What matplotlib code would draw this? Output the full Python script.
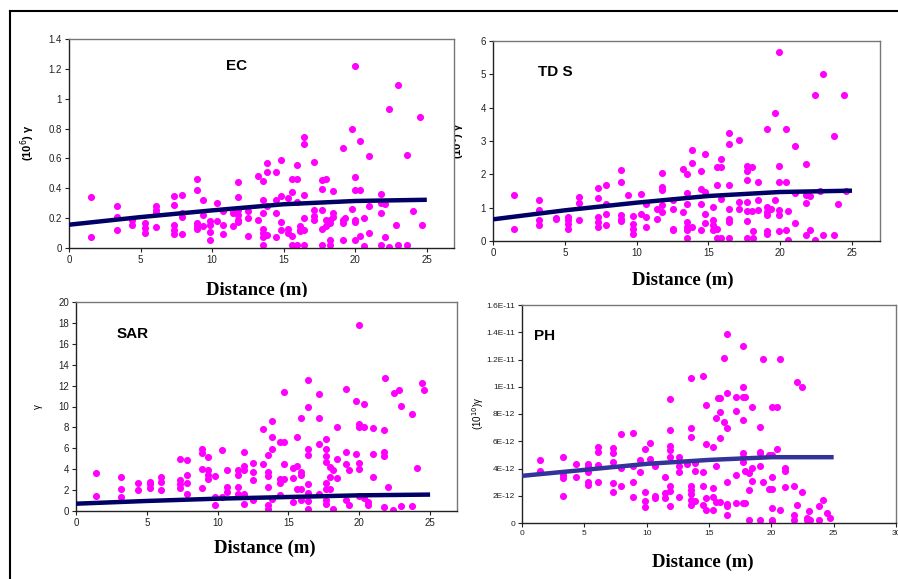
import numpy as np
import matplotlib
matplotlib.use("Agg")
import matplotlib.pyplot as plt
from matplotlib.patches import Rectangle
from matplotlib.lines import Line2D

# ---------------- data ----------------
ec_x = [1.51,1.51,3.33,3.33,3.33,4.43,4.43,5.31,5.31,5.31,6.08,6.08,6.08,6.08,7.34,7.34,7.34,7.34,7.34,
        7.87,7.87,7.87,7.87,8.97,8.97,8.97,8.97,8.97,9.39,9.39,9.39,9.86,9.86,9.86,9.86,10.32,10.32,
        10.74,10.74,10.74,11.49,11.49,11.49,11.84,11.84,11.84,11.84,11.84,11.84,12.53,12.53,12.53,
        13.23,13.23,13.58,13.58,13.58,13.58,13.58,13.58,13.58,13.82,13.82,13.82,13.82,14.47,14.47,
        14.47,14.47,14.82,14.82,14.82,14.82,15.33,15.33,15.33,15.59,15.59,15.59,15.59,15.91,15.91,
        15.91,15.91,16.15,16.15,16.15,16.43,16.43,16.43,16.43,16.43,16.43,17.15,17.15,17.15,17.15,
        17.66,17.66,17.66,17.66,17.66,17.96,17.96,17.96,18.24,18.24,18.24,18.24,18.43,18.43,18.43,
        19.13,19.13,19.13,19.13,19.3,19.76,19.76,19.99,19.99,19.99,19.99,19.99,19.99,20.34,20.34,
        20.34,20.62,20.62,20.99,20.99,20.99,21.78,21.78,21.78,21.78,22.09,22.09,22.39,22.39,22.86,
        22.97,22.97,23.65,23.65,24.07,24.49,24.63]
ec_y = [0.34,0.074,0.283,0.207,0.123,0.19,0.156,0.17,0.134,0.10,0.283,0.256,0.234,0.138,0.35,0.29,0.156,0.123,0.096,
        0.357,0.234,0.21,0.096,0.46,0.39,0.167,0.145,0.127,0.32,0.223,0.145,0.183,0.156,0.107,0.056,0.30,0.183,
        0.25,0.152,0.096,0.145,0.234,0.256,0.44,0.34,0.256,0.223,0.19,0.174,0.25,0.20,0.082,
        0.484,0.19,0.446,0.323,0.234,0.127,0.10,0.071,0.022,0.568,0.508,0.279,0.089,0.506,0.323,
        0.234,0.071,0.59,0.345,0.172,0.123,0.334,0.127,0.10,0.372,0.46,0.078,0.022,0.553,0.46,
        0.305,0.022,0.145,0.123,0.111,0.742,0.696,0.357,0.20,0.123,0.018,0.575,0.252,0.212,0.19,
        0.457,0.395,0.252,0.127,0.018,0.46,0.19,0.145,0.19,0.17,0.056,0.022,0.38,0.234,0.21,
        0.67,0.19,0.167,0.056,0.2,0.796,0.263,1.22,0.475,0.386,0.19,0.172,0.056,0.718,0.386,
        0.078,0.2,0.011,0.618,0.283,0.10,0.363,0.30,0.234,0.018,0.296,0.074,0.932,0.007,0.152,
        1.09,0.022,0.624,0.022,0.25,0.88,0.152]

tds_x = [1.44,1.44,3.19,3.19,3.19,3.19,4.37,4.37,5.19,5.19,5.19,5.19,6.0,6.0,6.0,7.33,7.33,7.33,7.33,7.33,
         7.86,7.86,7.86,7.86,8.88,8.88,8.88,8.88,8.88,9.42,9.77,9.77,9.77,9.77,10.28,10.28,10.65,10.65,10.65,
         11.4,11.4,11.79,11.79,11.79,11.79,11.79,12.51,12.51,12.51,12.51,13.2,13.2,13.53,13.53,13.53,
         13.53,13.53,13.53,13.53,13.84,13.84,13.84,14.47,14.47,14.47,14.47,14.77,14.77,14.77,14.77,
         15.3,15.3,15.3,15.3,15.58,15.58,15.58,15.58,15.86,15.86,15.86,15.86,16.4,16.4,16.4,16.4,16.4,
         16.4,16.4,17.16,17.16,17.16,17.67,17.67,17.67,17.67,17.67,17.67,17.67,18.02,18.02,18.14,18.14,
         18.42,18.42,18.42,19.07,19.07,19.07,19.07,19.07,19.07,19.35,19.67,19.67,19.93,19.93,19.93,19.93,
         19.93,19.93,20.4,20.4,20.4,20.56,20.56,21.05,21.05,21.05,21.77,21.77,21.77,21.77,22.05,22.05,
         22.42,22.42,22.79,22.98,22.98,23.72,23.72,24.02,24.42,24.58]
tds_y = [1.39,0.35,1.24,0.92,0.62,0.47,0.70,0.65,0.72,0.62,0.52,0.37,1.32,1.14,0.62,1.60,1.30,0.72,0.57,0.42,
         1.67,1.10,0.82,0.47,2.12,1.77,0.77,0.67,0.60,1.37,0.74,0.52,0.37,0.22,1.42,0.82,1.12,0.72,0.42,
         0.67,0.97,2.05,1.62,1.52,1.07,0.87,1.22,0.97,0.37,0.32,2.17,0.87,2.02,1.45,1.12,
         0.57,0.42,0.32,0.10,2.72,2.34,0.42,2.10,1.55,1.12,0.32,2.62,1.47,0.82,0.54,
         1.02,0.62,0.47,0.32,1.69,2.22,0.37,0.10,2.47,2.22,1.25,0.10,3.25,2.90,1.67,0.97,0.67,
         0.57,0.10,3.03,1.17,0.97,2.24,2.10,1.82,1.17,0.90,0.60,0.10,2.22,0.90,0.30,0.10,
         1.77,1.24,0.92,3.35,1.02,0.87,0.77,0.30,0.22,0.97,3.83,1.22,5.68,2.25,1.77,0.92,
         0.77,0.30,3.35,1.77,0.34,0.90,0.04,2.84,1.44,0.54,2.32,1.37,1.14,0.17,1.34,0.32,
         4.38,0.04,1.50,5.01,0.17,3.15,0.17,1.12,4.38,1.50]

sar_x = [1.41,1.41,3.2,3.2,3.2,4.36,4.36,5.23,5.23,5.23,6.0,6.0,6.0,7.34,7.34,7.34,7.34,7.86,7.86,7.86,7.86,
         8.87,8.87,8.87,8.87,9.35,9.35,9.35,9.35,9.82,9.82,9.82,10.29,10.29,10.69,10.69,10.69,11.46,11.46,
         11.46,11.46,11.86,11.86,11.86,11.86,11.86,12.52,12.52,12.52,12.52,13.18,13.18,13.54,13.54,13.54,
         13.54,13.54,13.54,13.84,13.84,13.84,13.84,14.41,14.41,14.41,14.41,14.71,14.71,14.71,14.71,
         15.3,15.3,15.3,15.58,15.58,15.58,15.89,15.89,15.89,15.89,15.89,16.41,16.41,16.41,16.41,16.41,
         16.41,16.41,16.41,17.18,17.18,17.18,17.18,17.66,17.66,17.66,17.66,17.66,17.66,17.66,17.66,
         17.94,17.94,17.94,18.13,18.13,18.41,18.41,18.41,19.07,19.07,19.07,19.07,19.3,19.3,19.77,19.77,
         19.99,19.99,19.99,19.99,19.99,19.99,20.36,20.36,20.36,20.6,20.6,21.0,21.0,21.0,21.75,21.75,
         21.75,21.75,21.82,22.01,22.41,22.48,22.83,22.95,22.95,23.75,23.75,24.1,24.41,24.6]
sar_y = [3.68,1.44,3.26,2.14,1.34,2.69,1.98,2.78,2.56,2.24,3.26,2.78,2.05,5.02,2.94,2.62,2.24,4.86,3.49,2.69,1.6,
         5.89,5.57,4.0,2.24,5.18,3.9,3.49,3.04,3.36,1.34,0.61,5.82,1.34,3.9,2.3,1.82,3.9,3.42,
         2.3,1.6,5.66,4.29,3.9,1.66,0.7,4.61,3.74,2.94,1.02,7.81,4.48,5.34,3.74,3.33,
         2.3,0.54,0.22,8.64,7.1,5.89,1.18,6.62,3.1,2.69,1.5,11.36,6.62,4.48,3.04,
         4.16,3.2,0.86,7.1,4.32,2.14,8.93,3.42,3.74,2.14,1.02,12.54,9.92,5.98,5.34,2.56,
         1.76,0.96,0.22,11.17,8.86,6.4,1.66,6.88,5.89,5.28,4.7,2.69,2.14,1.02,0.7,
         4.22,3.26,2.14,3.9,0.22,8.0,5.02,3.17,11.65,5.66,4.48,1.09,3.97,0.61,10.56,5.41,
         17.82,8.32,8.06,4.61,4.06,1.41,10.24,8.0,1.28,0.86,0.54,7.9,5.44,3.26,7.74,5.6,
         5.28,0.38,12.77,2.3,0.13,11.26,11.58,10.05,0.45,9.25,0.45,4.16,12.29,11.58]

# pH values in units of 1e-12
ph_x = [1.47,1.47,3.29,3.29,3.29,3.29,4.36,4.36,5.27,5.27,5.27,5.27,5.27,6.07,6.07,6.07,6.07,7.3,7.3,7.3,7.3,7.3,
        7.94,7.94,7.94,8.9,8.9,8.9,8.9,9.44,9.44,9.89,9.89,9.89,9.89,10.29,10.29,10.7,10.7,10.7,11.44,11.44,11.44,
        11.84,11.84,11.84,11.84,11.84,11.84,11.84,11.84,12.57,12.57,12.57,12.57,13.24,13.56,13.56,13.56,13.56,
        13.56,13.56,13.56,13.56,13.9,13.9,13.9,14.49,14.49,14.49,14.49,14.79,14.79,14.79,14.79,15.32,15.32,
        15.32,15.32,15.59,15.59,15.59,15.72,15.91,15.91,15.91,15.91,16.18,16.18,16.44,16.44,16.44,16.44,16.44,
        16.44,16.44,17.19,17.19,17.19,17.19,17.73,17.73,17.73,17.73,17.73,17.73,17.73,17.73,17.91,17.91,17.91,
        18.24,18.24,18.24,18.45,18.45,18.45,19.12,19.12,19.12,19.12,19.12,19.33,19.33,19.79,19.79,20.05,20.05,
        20.05,20.05,20.05,20.05,20.05,20.45,20.45,20.67,20.67,21.12,21.12,21.12,21.84,21.84,21.84,22.06,22.06,
        22.46,22.46,22.86,22.86,22.99,23.13,23.8,23.8,24.14,24.47,24.68]
ph_y = [4.59,3.83,4.88,3.54,3.29,2.0,4.34,3.41,4.34,4.15,3.71,2.98,2.80,4.27,5.61,5.24,2.98,5.49,5.12,4.51,2.93,2.24,
        6.54,4.02,2.73,6.59,4.2,2.98,1.9,4.59,3.71,5.41,2.24,1.59,1.17,5.9,4.68,4.15,2.0,1.83,3.41,2.2,1.83,
        9.1,6.83,5.68,5.37,4.88,2.68,2.32,1.22,4.83,4.15,3.71,1.9,4.34,10.66,6.95,6.29,2.68,
        2.44,2.15,1.71,1.34,4.44,3.78,1.59,10.8,3.71,2.73,1.34,8.66,5.78,1.83,0.98,5.61,2.56,
        1.9,0.93,7.68,4.15,1.51,9.2,9.2,8.17,6.22,1.51,12.12,7.44,13.9,9.51,6.95,2.98,1.39,
        1.22,0.61,9.27,8.24,3.54,1.46,12.98,10.0,9.22,7.56,5.12,4.88,4.51,1.46,9.22,3.78,1.46,
        3.66,2.44,0.24,8.54,4.02,3.05,7.07,5.24,5.12,4.15,0.24,12.07,2.98,5.0,2.49,8.54,5.0,
        3.34,2.49,1.1,0.24,0.12,8.54,5.41,12.07,0.93,4.02,3.78,2.61,2.73,0.61,0.24,10.37,1.34,
        9.95,2.24,0.37,0.24,0.85,0.24,1.22,0.24,1.71,0.73,0.37]

trend_x = [0, 5, 10, 15, 20, 25]
ec_trend = [0.156, 0.207, 0.252, 0.293, 0.315, 0.323]
tds_trend = [0.65, 0.92, 1.15, 1.35, 1.47, 1.51]
sar_trend = [0.70, 0.96, 1.18, 1.34, 1.50, 1.57]
ph_trend = [3.46, 3.90, 4.34, 4.63, 4.83, 4.83]

x_ticks = [0, 5, 10, 15, 20, 25]
ph_x_ticks = [0, 5, 10, 15, 20, 25, 30]
ec_yticks = [0, 0.2, 0.4, 0.6, 0.8, 1.0, 1.2, 1.4]
ec_ylabels = ["0", "0.2", "0.4", "0.6", "0.8", "1", "1.2", "1.4"]
tds_yticks = [0, 1, 2, 3, 4, 5, 6]
sar_yticks = [0, 2, 4, 6, 8, 10, 12, 14, 16, 18, 20]
ph_yticks = [0, 2, 4, 6, 8, 10, 12, 14, 16]
ph_ylabels = ["0", "2E-12", "4E-12", "6E-12", "8E-12", "1E-11", "1.2E-11", "1.4E-11", "1.6E-11"]

# ---------------- figure ----------------
W, H = 898, 579
fig = plt.figure(figsize=(W / 100, H / 100), dpi=100)
fig.patch.set_facecolor("white")
plt.rcParams['font.family'] = ['Liberation Sans', 'DejaVu Sans']

MAG = "#ff00ff"

def fx(px):
    return px / W

def fy(py):
    return 1 - py / H

def px_axes(l, t, r, b):
    ax = fig.add_axes([l / W, 1 - b / H, (r - l) / W, (b - t) / H])
    ax.set_zorder(3)
    ax.set_facecolor("white")
    return ax

def style(ax, fs=7):
    for s in ("top", "right"):
        ax.spines[s].set_color("#777777")
        ax.spines[s].set_linewidth(1.0)
    for s in ("left", "bottom"):
        ax.spines[s].set_color("#222222")
        ax.spines[s].set_linewidth(1.0)
    ax.tick_params(direction="out", length=3, width=0.8, colors="#222222",
                   labelsize=fs, pad=2)

# labels partly covered by neighbouring chart areas
fig.text(fx(257), fy(290), "Distance (m)", ha="center", va="center",
         fontsize=13.5, fontweight="bold", family="Liberation Serif", zorder=1)
fig.text(fx(458), fy(141), "(10$^6$) γ", ha="center", va="center", rotation=90,
         fontsize=8, fontweight="bold", zorder=1)
# white chart-area backgrounds
fig.patches.append(Rectangle((fx(12), fy(258)), fx(445) - fx(12), fy(13) - fy(258),
                             transform=fig.transFigure, facecolor="white",
                             edgecolor="none", zorder=2))
fig.patches.append(Rectangle((fx(12), fy(579)), fx(462) - fx(12), fy(297) - fy(579),
                             transform=fig.transFigure, facecolor="white",
                             edgecolor="none", zorder=2))

def panel(box, xs, ys, tx, ty, xlim, xt, ylim, yt, ylabels, line_color, fs=7):
    ax = px_axes(*box)
    ax.scatter(xs, ys, s=26, color=MAG, marker="o", linewidths=0, zorder=2)
    ax.plot(tx, ty, color=line_color, lw=3.2, solid_capstyle="butt", zorder=3)
    ax.set_xlim(*xlim)
    ax.set_ylim(*ylim)
    ax.set_xticks(xt)
    ax.set_yticks(yt)
    if ylabels is not None:
        ax.set_yticklabels(ylabels)
    style(ax, fs)
    return ax

ax1 = panel((69, 39, 454, 248), ec_x, ec_y, trend_x, ec_trend, (0, 26.9), x_ticks,
            (0, 1.4), ec_yticks, ec_ylabels, "#000066")
ax2 = panel((493, 41, 880, 241), tds_x, tds_y, trend_x, tds_trend, (0, 26.95), x_ticks,
            (0, 6), tds_yticks, None, "#000066")
ax3 = panel((76, 302, 457, 511), sar_x, sar_y, trend_x, sar_trend, (0, 26.9), x_ticks,
            (0, 20), sar_yticks, None, "#000066")
ax4 = panel((522, 305, 896, 523), ph_x, ph_y, trend_x, ph_trend, (0, 30), ph_x_ticks,
            (0, 16), ph_yticks, ph_ylabels, "#333399", fs=6)

# titles inside plots
fig.text(fx(237), fy(66), "EC", ha="center", va="center", fontsize=11, fontweight="bold", zorder=5)
fig.text(fx(555), fy(72), "TD S", ha="center", va="center", fontsize=11, fontweight="bold", zorder=5)
fig.text(fx(133), fy(334), "SAR", ha="center", va="center", fontsize=11, fontweight="bold", zorder=5)
fig.text(fx(545), fy(336), "PH", ha="center", va="center", fontsize=11, fontweight="bold", zorder=5)

# axis labels
fig.text(fx(683), fy(280), "Distance (m)", ha="center", va="center",
         fontsize=13.5, fontweight="bold", family="Liberation Serif", zorder=5)
fig.text(fx(265), fy(548), "Distance (m)", ha="center", va="center",
         fontsize=13.5, fontweight="bold", family="Liberation Serif", zorder=5)
fig.text(fx(703), fy(562), "Distance (m)", ha="center", va="center",
         fontsize=13.5, fontweight="bold", family="Liberation Serif", zorder=5)
fig.text(fx(28), fy(143), "(10$^6$) γ", ha="center", va="center", rotation=90,
         fontsize=8, fontweight="bold", zorder=5)
fig.text(fx(38), fy(407), "γ", ha="center", va="center", rotation=90,
         fontsize=7, zorder=5)
fig.text(fx(478), fy(413), "(10$^{10}$)γ", ha="center", va="center", rotation=90,
         fontsize=7, zorder=5)

# outer frame lines
fig.add_artist(Line2D([fx(10), fx(898)], [fy(11), fy(11)], color="black", lw=1.5,
                      transform=fig.transFigure, zorder=6))
fig.add_artist(Line2D([fx(10), fx(10)], [fy(11), fy(579)], color="black", lw=1.5,
                      transform=fig.transFigure, zorder=6))

fig.savefig("out.png", dpi=100, facecolor="white")
